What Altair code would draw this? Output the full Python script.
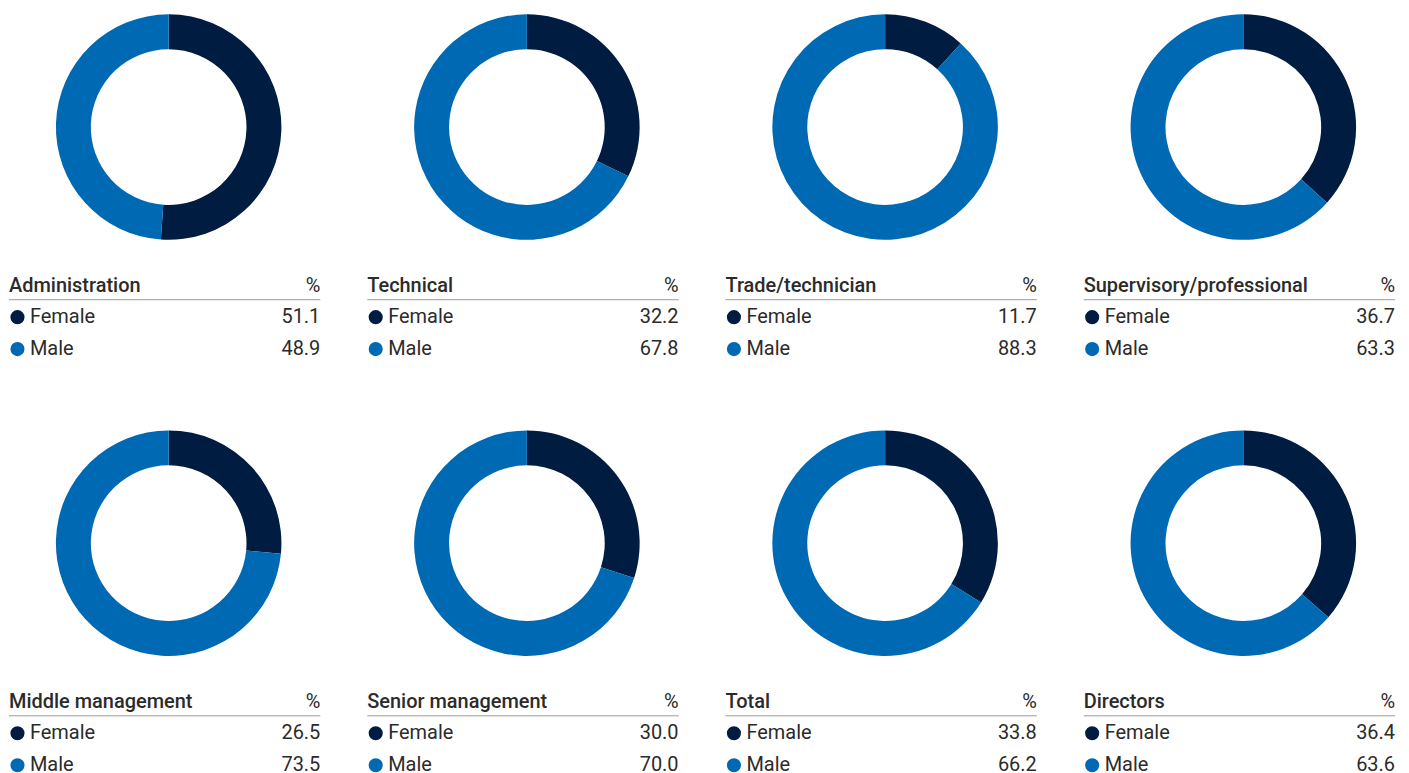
import altair as alt
import pandas as pd

categories = ["Administration", "Technical", "Trade/technician", "Supervisory/professional",
              "Middle management", "Senior management", "Total", "Directors"]
genders = ["Female", "Male"]
female = [51.1, 32.2, 11.7, 36.7, 26.5, 30.0, 33.8, 36.4]
male = [48.9, 67.8, 88.3, 63.3, 73.5, 70.0, 66.2, 63.6]
colors = ["#001c40", "#0069b4"]

rows = []
for c, f, m in zip(categories, female, male):
    rows.append({"category": c, "gender": "Female", "value": f, "order": 0})
    rows.append({"category": c, "gender": "Male", "value": m, "order": 1})
df = pd.DataFrame(rows)

W = 312
H = 345
FONT = "Roboto"
TEXT = "#2b2b2b"
FS = 20

color = alt.Color("gender:N", scale=alt.Scale(domain=genders, range=colors), legend=None)
ypos = alt.Y("gender:N", scale=alt.Scale(domain=genders, range=[304, 336], padding=0), axis=None)


def panel(cat):
    base = alt.Chart(df).transform_filter(alt.datum.category == cat)
    base_f = base.transform_filter(alt.datum.gender == "Female")
    arc = base.mark_arc(outerRadius=113, innerRadius=78).encode(
        theta=alt.Theta("value:Q", stack=True, scale=alt.Scale(domain=[0, 100])),
        color=color,
        order=alt.Order("order:Q"),
        x=alt.value(160),
        y=alt.value(113.5),
    )
    rule = base_f.mark_rule(color="#9a9a9a", strokeWidth=1).encode(
        x=alt.value(0), x2=alt.value(W), y=alt.value(286.5)
    )
    title = base_f.mark_text(align="left", baseline="middle", font=FONT, fontSize=FS,
                             fontWeight=500, color=TEXT).encode(
        text="category:N", x=alt.value(0), y=alt.value(273)
    )
    pct = base_f.mark_text(align="right", baseline="middle", font=FONT, fontSize=FS,
                           color=TEXT).encode(
        text=alt.value("%"), x=alt.value(W), y=alt.value(273)
    )
    dots = base.mark_circle(size=200, opacity=1).encode(
        x=alt.value(8.5), y=ypos, color=color
    )
    glab = base.mark_text(align="left", baseline="middle", font=FONT, fontSize=FS,
                          color=TEXT).encode(
        text="gender:N", x=alt.value(21), y=ypos
    )
    vals = base.mark_text(align="right", baseline="middle", font=FONT, fontSize=FS,
                          color=TEXT).encode(
        text=alt.Text("value:Q", format=".1f"), x=alt.value(W), y=ypos
    )
    return alt.layer(arc, rule, title, pct, dots, glab, vals).properties(width=W, height=H)


chart = alt.concat(
    *[panel(c) for c in categories], columns=4, spacing={"row": 71, "column": 45}
).properties(
    padding={"left": 0, "top": 5, "right": 5, "bottom": 5}
).configure_view(stroke=None)

chart.save("out.html", embed_options={"renderer": "svg", "actions": False})
